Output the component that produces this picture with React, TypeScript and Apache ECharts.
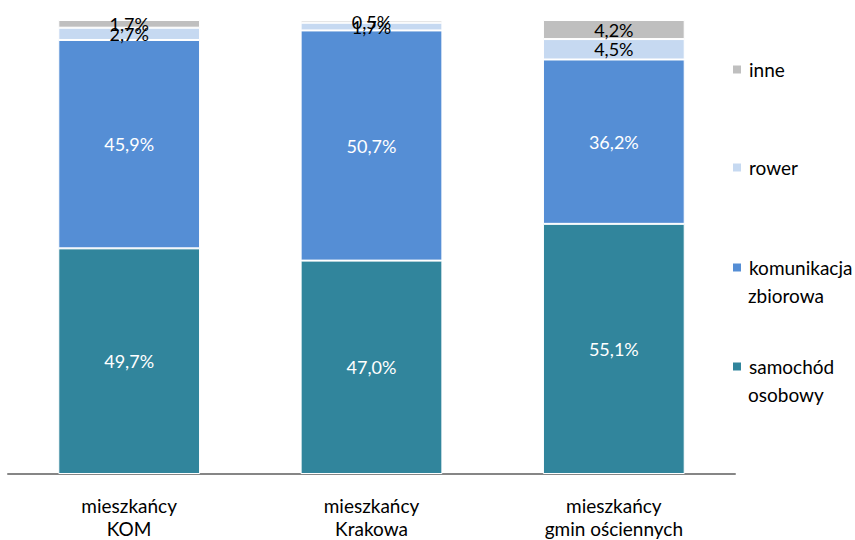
import React, { useEffect, useRef } from "react";
import * as echarts from "echarts";

const categories = ["mieszkańcy\nKOM", "mieszkańcy\nKrakowa", "mieszkańcy\ngmin ościennych"];
const samochod = [49.7, 47.0, 55.1];
const komunikacja = [45.9, 50.7, 36.2];
const rower = [2.7, 1.7, 4.5];
const inne = [1.7, 0.5, 4.2];

const seriesNames = ["samochód osobowy", "komunikacja zbiorowa", "rower", "inne"];
const seriesData = [samochod, komunikacja, rower, inne];
const colors = ["#31859C", "#558ED5", "#C6D9F1", "#BFBFBF"];
const labelColors = ["#ffffff", "#ffffff", "#000000", "#000000"];

const FONT = "Lato, 'Open Sans', sans-serif";

export default function App() {
  const ref = useRef<HTMLDivElement>(null);
  useEffect(() => {
    if (!ref.current) return;
    const chart = echarts.init(ref.current, null, { renderer: "svg" });
    const fmt = (v: number) => v.toFixed(1).replace(".", ",") + "%";
    const legendTops = [357, 258, 158, 60];
    const firstLines = ["samochód", "komunikacja", "rower", "inne"];
    chart.setOption({
      animation: false,
      textStyle: { fontFamily: FONT },
      grid: { left: 8, right: 120, top: 20, bottom: 65 },
      xAxis: {
        type: "category",
        data: categories,
        axisLine: { lineStyle: { color: "#868686", width: 2 } },
        axisTick: { show: false },
        axisLabel: { fontSize: 19, color: "#000", lineHeight: 23, margin: 20, fontFamily: FONT },
      },
      yAxis: { type: "value", min: 0, max: 100, show: false },
      legend: seriesNames.map((n, i) => ({
        data: [n],
        orient: "vertical",
        left: 731,
        top: legendTops[i],
        padding: 0,
        icon: "rect",
        itemWidth: 10,
        itemHeight: 10,
        itemGap: 6,
        formatter: () => firstLines[i],
        textStyle: { fontSize: 19, color: "#000", fontFamily: FONT, padding: [0, 0, 0, 2] },
      })),
      graphic: [
        { type: "text", left: 748, top: 286, style: { text: "zbiorowa", font: "19px " + FONT, fill: "#000" } },
        { type: "text", left: 748, top: 385, style: { text: "osobowy", font: "19px " + FONT, fill: "#000" } },
      ],
      series: seriesNames.map((n, i) => ({
        name: n,
        type: "bar",
        stack: "total",
        barWidth: "58.5%",
        data: seriesData[i],
        itemStyle: { color: colors[i], borderColor: "#ffffff", borderWidth: 1 },
        label: {
          show: true,
          position: "inside",
          color: labelColors[i],
          fontSize: 18,
          lineHeight: 17,
          fontFamily: FONT,
          formatter: (p: any) => fmt(p.value),
        },
      })),
    });
    return () => chart.dispose();
  }, []);
  return <div ref={ref} style={{ width: 855, height: 540, position: "absolute", left: 0, top: 0 }} />;
}
